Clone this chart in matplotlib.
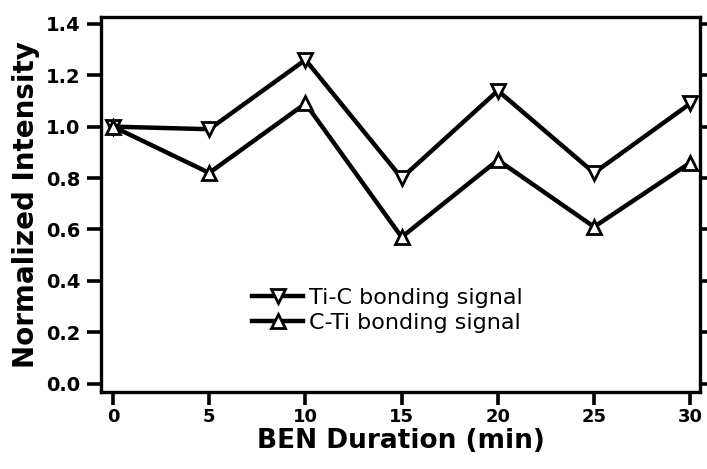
import matplotlib
matplotlib.use("Agg")
import matplotlib.pyplot as plt

duration = [0, 5, 10, 15, 20, 25, 30]
ti_c = [1.00, 0.99, 1.26, 0.80, 1.14, 0.82, 1.09]
c_ti = [1.00, 0.82, 1.09, 0.57, 0.87, 0.61, 0.86]
yticks = [0.0, 0.2, 0.4, 0.6, 0.8, 1.0, 1.2, 1.4]
ytick_labels = ["0.0", "0.2", "0.4", "0.6", "0.8", "1.0", "1.2", "1.4"]
xticks = [0, 5, 10, 15, 20, 25, 30]

plt.rcParams['font.family'] = ['DejaVu Sans']

fig = plt.figure(figsize=(7.07, 4.69), dpi=100)
ax = fig.add_axes([0.143, 0.165, 0.847, 0.799])

ax.plot(duration, ti_c, color='black', lw=3.2, marker='v', ms=10,
        mfc='white', mec='black', mew=2.0, label='Ti-C bonding signal')
ax.plot(duration, c_ti, color='black', lw=3.2, marker='^', ms=10,
        mfc='white', mec='black', mew=2.0, label='C-Ti bonding signal')

ax.set_xlim(-0.62, 30.5)
ax.set_ylim(-0.031, 1.427)
ax.set_xticks(xticks)
ax.set_xticklabels([str(x) for x in xticks])
ax.set_yticks(yticks)
ax.set_yticklabels(ytick_labels)

for s in ax.spines.values():
    s.set_linewidth(2.4)

ax.tick_params(axis='x', direction='out', length=9, width=2.6,
               labelsize=13, pad=3)
ax.tick_params(axis='y', direction='out', length=10, width=2.6,
               labelsize=14, pad=5)
ax.tick_params(axis='y', right=True, labelright=False)
for lab in ax.get_xticklabels() + ax.get_yticklabels():
    lab.set_fontweight('bold')

ax.set_xlabel('BEN Duration (min)', fontsize=19, fontweight='bold', labelpad=1)
ax.set_ylabel('Normalized Intensity', fontsize=20, fontweight='bold', labelpad=4)

leg = ax.legend(loc='upper left', bbox_to_anchor=(0.252, 0.276), frameon=False,
                fontsize=16, handlelength=2.3, borderpad=0, labelspacing=0.2,
                handletextpad=0.25, borderaxespad=0)

fig.savefig('out.png', dpi=100)
